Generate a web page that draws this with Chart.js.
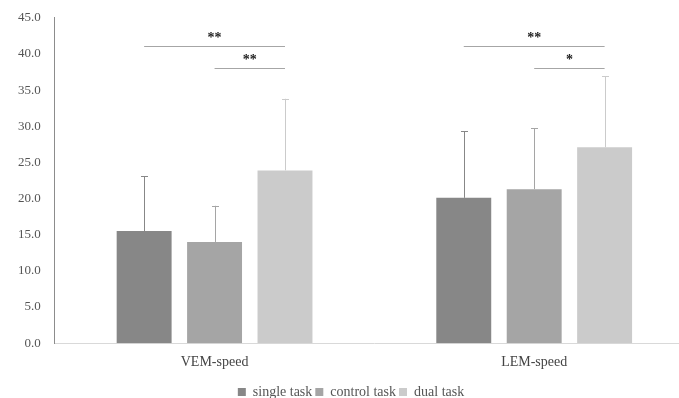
<!DOCTYPE html>
<html>
<head>
<meta charset="utf-8">
<script src="https://cdn.jsdelivr.net/npm/chart.js@4.4.0/dist/chart.umd.min.js"></script>
<style>
  html, body { margin: 0; padding: 0; background: #fff; overflow: hidden; }
  #wrap { width: 700px; height: 398px; }
</style>
</head>
<body>
<div id="wrap"><canvas id="chart" width="700" height="398"></canvas></div>
<script>
// Data
const categories = ["VEM-speed", "LEM-speed"];
const seriesNames = ["single task", "control task", "dual task"];
const singleTask = [15.5, 20.1];
const controlTask = [14.0, 21.3];
const dualTask = [23.9, 27.1];
const singleSD = [7.6, 9.2];
const controlSD = [5.0, 8.4];
const dualSD = [9.9, 9.8];
// significance brackets: [category index, from series, to series, level, label]
const sigBrackets = [
  [0, 0, 2, 41.1, "**"],
  [0, 1, 2, 38.0, "**"],
  [1, 0, 2, 41.1, "**"],
  [1, 1, 2, 38.1, "*"],
];

const colors = ["#878787", "#a5a5a5", "#cbcbcb"];
const sds = [singleSD, controlSD, dualSD];
const fontFamily = "'Liberation Serif', 'DejaVu Serif', serif";

// error bars and significance lines
const extras = {
  id: "extras",
  afterDatasetsDraw(chart) {
    const ctx = chart.ctx;
    const y = chart.scales.y;
    ctx.save();
    chart.data.datasets.forEach((ds, i) => {
      const meta = chart.getDatasetMeta(i);
      meta.data.forEach((bar, j) => {
        const top = y.getPixelForValue(ds.data[j] + sds[i][j]);
        ctx.strokeStyle = colors[i];
        ctx.lineWidth = 1;
        ctx.beginPath();
        ctx.moveTo(Math.round(bar.x) + 0.5, bar.y);
        ctx.lineTo(Math.round(bar.x) + 0.5, top);
        ctx.moveTo(Math.round(bar.x) - 3, Math.round(top) + 0.5);
        ctx.lineTo(Math.round(bar.x) + 4, Math.round(top) + 0.5);
        ctx.stroke();
      });
    });
    sigBrackets.forEach(([c, a, b, lvl, label]) => {
      const x1 = chart.getDatasetMeta(a).data[c].x;
      const x2 = chart.getDatasetMeta(b).data[c].x;
      const py = Math.round(y.getPixelForValue(lvl)) + 0.5;
      ctx.strokeStyle = "#a6a6a6";
      ctx.beginPath();
      ctx.moveTo(x1, py);
      ctx.lineTo(x2, py);
      ctx.stroke();
      ctx.fillStyle = "#222";
      ctx.font = "bold 14px " + fontFamily;
      ctx.textAlign = "center";
      ctx.textBaseline = "bottom";
      ctx.fillText(label, (x1 + x2) / 2, py - 1);
    });
    ctx.restore();
  },
};

new Chart(document.getElementById("chart"), {
  type: "bar",
  data: {
    labels: categories,
    datasets: [
      { label: seriesNames[0], data: singleTask, backgroundColor: colors[0] },
      { label: seriesNames[1], data: controlTask, backgroundColor: colors[1] },
      { label: seriesNames[2], data: dualTask, backgroundColor: colors[2] },
    ],
  },
  options: {
    responsive: false,
    animation: false,
    layout: { padding: { top: 0, right: 6, left: 8, bottom: -11 } },
    datasets: {
      bar: { categoryPercentage: 0.661, barPercentage: 0.78 },
    },
    scales: {
      x: {
        grid: { display: false, drawTicks: false },
        border: { color: "#d9d9d9" },
        ticks: { color: "#444", padding: 11, font: { family: fontFamily, size: 14 } },
      },
      y: {
        min: 0,
        max: 45,
        grid: { display: false, drawTicks: true, tickLength: 4, tickColor: "rgba(0,0,0,0)" },
        border: { color: "#8c8c8c" },
        ticks: {
          stepSize: 5,
          padding: 10,
          color: "#555",
          font: { family: fontFamily, size: 13 },
          callback: (v) => v.toFixed(1),
        },
      },
    },
    plugins: {
      legend: {
        position: "bottom",
        labels: {
          boxWidth: 8,
          boxHeight: 8,
          padding: 3,
          color: "#555",
          font: { family: fontFamily, size: 14 },
        },
      },
      tooltip: { enabled: false },
    },
  },
  plugins: [extras],
});
</script>
</body>
</html>
